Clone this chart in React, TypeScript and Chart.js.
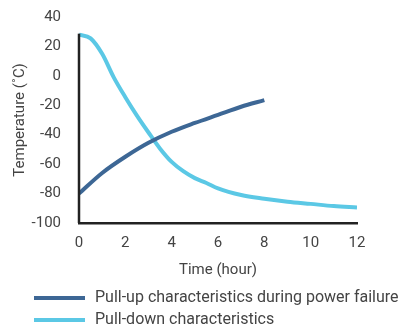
import React, { useEffect, useRef } from "react";
import { Chart, registerables } from "chart.js";

Chart.register(...registerables);

const pullUpHours = [0, 1, 2, 3, 4, 5, 6, 7, 8];
const pullUpTemps = [-80, -66, -55, -45.5, -38, -32, -26.5, -21, -16.5];

const pullDownHours = [0, 0.5, 1, 1.5, 2, 2.5, 3, 3.5, 4, 4.5, 5, 5.5, 6, 7, 8, 9, 10, 11, 12];
const pullDownTemps = [28, 25.5, 15, -1, -14.5, -27, -38.5, -49.5, -58.5, -64.8, -69.5, -72.8, -76.5, -81, -83.5, -85.5, -87, -88.5, -89.5];

const xTicks = [0, 2, 4, 6, 8, 10, 12];
const yTicks = [40, 20, 0, -20, -40, -60, -80, -100];

const seriesNames = ["Pull-up characteristics during power failure", "Pull-down characteristics"];
const seriesColors = ["#3d6795", "#5bc8e5"];

const FONT = "Roboto, 'Noto Sans', sans-serif";
const TEXT = "#444444";

export default function App() {
  const ref = useRef<HTMLCanvasElement | null>(null);

  useEffect(() => {
    document.body.style.margin = "0";
    const canvas = ref.current;
    if (!canvas) return;

    const axisPlugin = {
      id: "customAxisAndLegend",
      afterDraw(chart: any) {
        const ctx = chart.ctx;
        const { left, bottom } = chart.chartArea;
        const yScale = chart.scales.y;
        ctx.save();
        ctx.strokeStyle = "#222222";
        ctx.lineWidth = 2.5;
        ctx.beginPath();
        ctx.moveTo(left, yScale.getPixelForValue(pullDownTemps[0]) - 1);
        ctx.lineTo(left, bottom);
        ctx.stroke();
        // legend
        const rows = [298, 320];
        ctx.font = "16px " + FONT;
        ctx.textBaseline = "middle";
        ctx.textAlign = "left";
        seriesNames.forEach((name, i) => {
          ctx.strokeStyle = seriesColors[i];
          ctx.lineWidth = 4;
          ctx.beginPath();
          ctx.moveTo(34, rows[i]);
          ctx.lineTo(85, rows[i]);
          ctx.stroke();
          ctx.fillStyle = TEXT;
          ctx.fillText(name, 95, rows[i]);
        });
        ctx.restore();
      },
    };

    const chart = new Chart(canvas, {
      type: "line",
      data: {
        datasets: [
          {
            label: seriesNames[0],
            data: pullUpHours.map((h, i) => ({ x: h, y: pullUpTemps[i] })),
            borderColor: seriesColors[0],
            backgroundColor: seriesColors[0],
            borderWidth: 4,
            pointRadius: 0,
            cubicInterpolationMode: "monotone",
          },
          {
            label: seriesNames[1],
            data: pullDownHours.map((h, i) => ({ x: h, y: pullDownTemps[i] })),
            borderColor: seriesColors[1],
            backgroundColor: seriesColors[1],
            borderWidth: 4,
            pointRadius: 0,
            cubicInterpolationMode: "monotone",
          },
        ],
      },
      options: {
        responsive: false,
        animation: false,
        layout: { padding: { top: 17, right: 41, left: 0, bottom: 0 } },
        plugins: { legend: { display: false }, tooltip: { enabled: false } },
        scales: {
          x: {
            type: "linear",
            min: 0,
            max: 12,
            afterFit: (s: any) => { s.height = 108; s.paddingLeft = 0; s.paddingRight = 0; },
            afterBuildTicks: (s: any) => { s.ticks = xTicks.map((v) => ({ value: v })); },
            grid: { display: false, drawTicks: false },
            border: { display: true, color: "#222222", width: 2.5 },
            ticks: { color: TEXT, font: { family: FONT, size: 15 }, padding: 11, maxRotation: 0 },
            title: {
              display: true,
              text: "Time (hour)",
              color: TEXT,
              font: { family: FONT, size: 15 },
              padding: { top: 0, bottom: 52 },
            },
          },
          y: {
            min: -100,
            max: 40,
            afterFit: (s: any) => { s.width = 79; s.paddingTop = 0; s.paddingBottom = 0; },
            afterBuildTicks: (s: any) => { s.ticks = yTicks.map((v) => ({ value: v })); },
            grid: { display: false, drawTicks: false },
            border: { display: false },
            ticks: { color: TEXT, font: { family: FONT, size: 15 }, padding: 18 },
            title: {
              display: true,
              text: "Temperature (˚C)",
              color: TEXT,
              font: { family: FONT, size: 15 },
              padding: { top: 11, bottom: 0 },
            },
          },
        },
      },
      plugins: [axisPlugin],
    });
    return () => chart.destroy();
  }, []);

  return <canvas ref={ref} width={398} height={331} style={{ display: "block" }} />;
}
